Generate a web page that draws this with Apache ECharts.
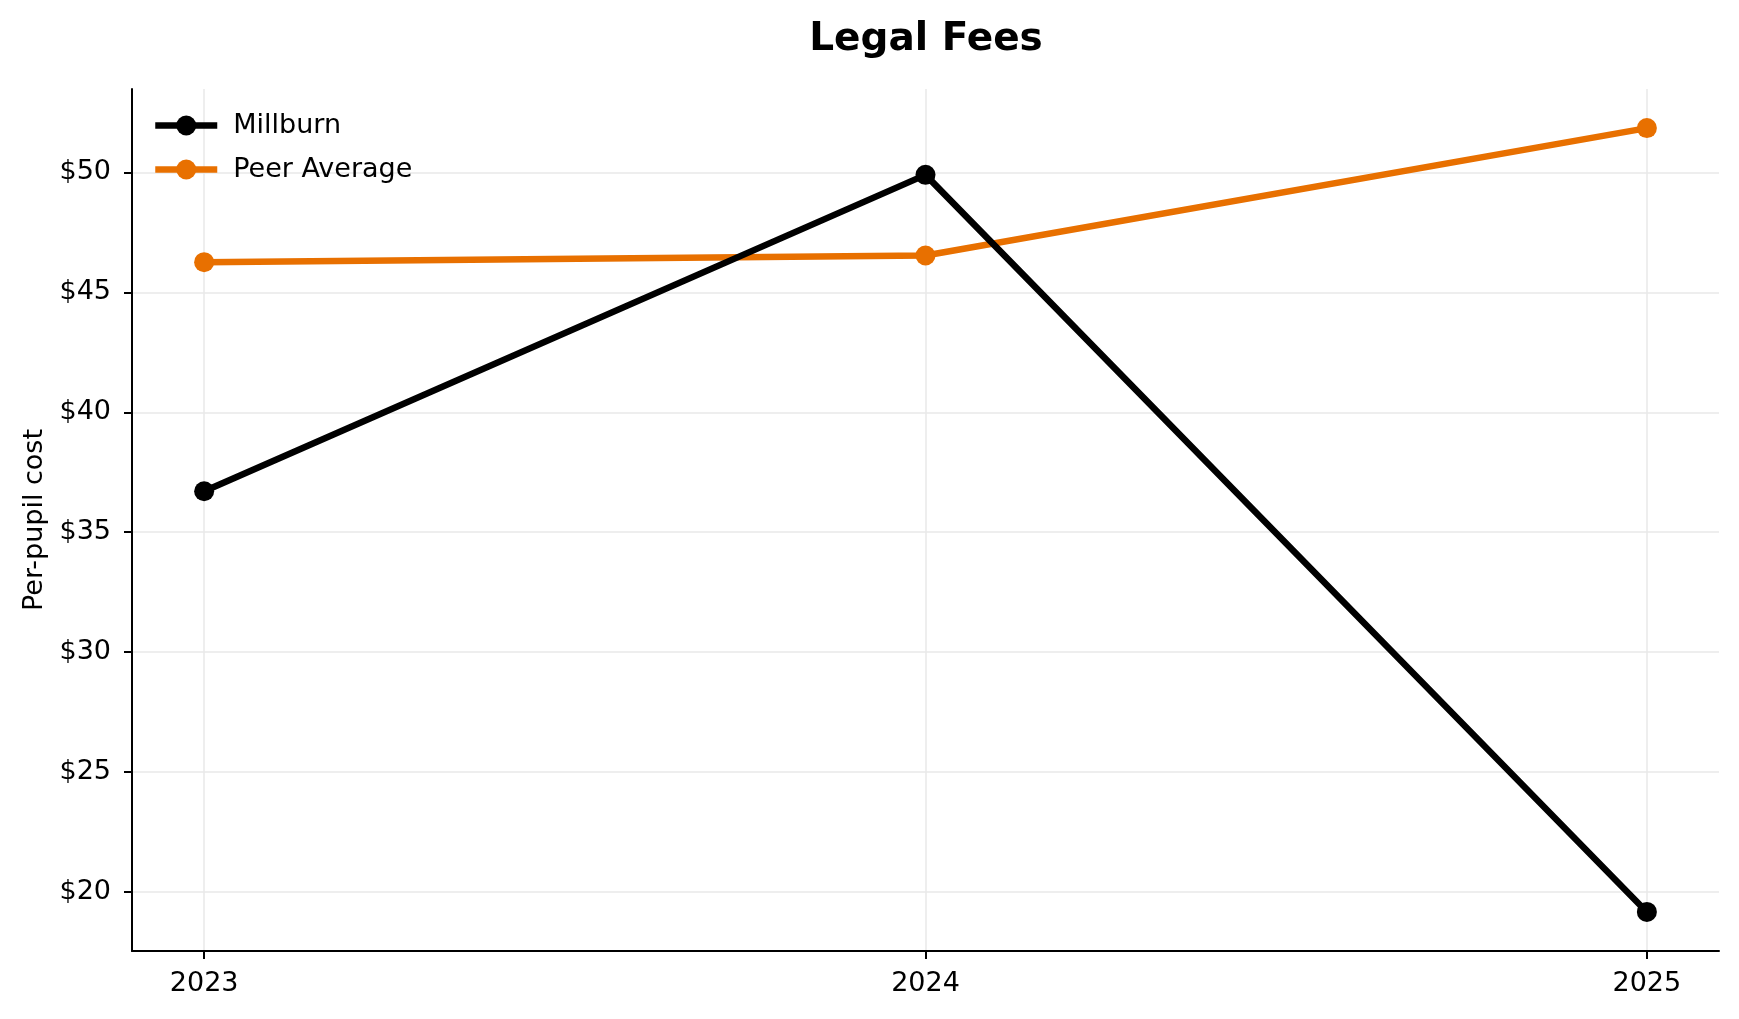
<!DOCTYPE html>
<html>
<head>
<meta charset="utf-8">
<script src="https://cdn.jsdelivr.net/npm/echarts@6/dist/echarts.min.js"></script>
<style>html,body{margin:0;padding:0;background:#fff}#c{width:1739px;height:1019px}</style>
</head>
<body>
<div id="c"></div>
<script>
const years = [2023, 2024, 2025];
const yearLabels = ['2023', '2024', '2025'];
const millburn = [36.71, 49.9, 19.17];
const peerAverage = [46.26, 46.54, 51.85];
const yTicks = [20, 25, 30, 35, 40, 45, 50];

const font = 'DejaVu Sans';
const chart = echarts.init(document.getElementById('c'));
const pair = (xs, ys) => xs.map((x, i) => [x, ys[i]]);

chart.setOption({
  backgroundColor: '#fff',
  animation: false,
  title: {
    text: 'Legal Fees',
    left: 921,
    top: 15,
    textAlign: 'center',
    textStyle: { fontFamily: font, fontSize: 39, fontWeight: 'bold', color: '#000' }
  },
  legend: {
    left: 147,
    top: 107,
    orient: 'vertical',
    itemWidth: 62,
    itemHeight: 25,
    itemGap: 17,
    lineStyle: { width: 6.5 },
    textStyle: { fontFamily: font, fontSize: 27, color: '#000', padding: [0, 0, 0, 11] },
    data: ['Millburn', 'Peer Average']
  },
  grid: { left: 132, right: 20, top: 89, bottom: 68, containLabel: false },
  xAxis: {
    type: 'value',
    min: 2022.9,
    max: 2025.1,
    axisLine: { show: true, lineStyle: { color: '#000', width: 2 } },
    axisTick: { show: true, length: 8, lineStyle: { color: '#000', width: 2 }, customValues: years },
    axisLabel: {
      customValues: years,
      margin: 19,
      fontFamily: font, fontSize: 27, color: '#000',
      formatter: v => yearLabels[years.indexOf(Math.round(v))] || ''
    },
    splitLine: { show: true, lineStyle: { color: '#e8e8e8', width: 1.5 } }
  },
  yAxis: {
    type: 'value',
    min: 17.54,
    max: 53.48,
    name: 'Per-pupil cost',
    nameLocation: 'middle',
    nameGap: 84,
    nameTextStyle: { fontFamily: font, fontSize: 27, color: '#000' },
    axisLine: { show: true, lineStyle: { color: '#000', width: 2 } },
    axisTick: { show: true, length: 8, lineStyle: { color: '#000', width: 2 }, customValues: yTicks },
    axisLabel: {
      customValues: yTicks,
      margin: 21,
      fontFamily: font, fontSize: 27, color: '#000',
      formatter: v => '$' + Math.round(v)
    },
    splitLine: { show: true, lineStyle: { color: '#e8e8e8', width: 1.5 } }
  },
  series: [
    {
      name: 'Millburn',
      type: 'line',
      data: pair(years, millburn),
      symbol: 'circle',
      symbolSize: 20,
      itemStyle: { color: '#000' },
      lineStyle: { color: '#000', width: 6.5 },
      z: 3
    },
    {
      name: 'Peer Average',
      type: 'line',
      data: pair(years, peerAverage),
      symbol: 'circle',
      symbolSize: 20,
      itemStyle: { color: '#e87000' },
      lineStyle: { color: '#e87000', width: 6.5 },
      z: 2
    }
  ]
});
</script>
</body>
</html>
